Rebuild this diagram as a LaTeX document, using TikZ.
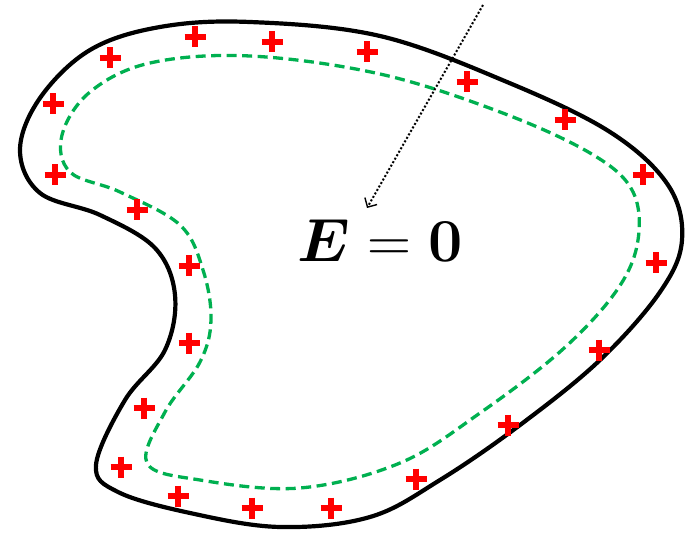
\documentclass[tikz,border=0pt]{standalone}
\definecolor{fieldGreen}{RGB}{0,176,80}
\usepackage{amsmath,amssymb}
\usepackage{tikz}
\usetikzlibrary{arrows.meta,positioning}

\begin{document}
\begin{tikzpicture}[x=1pt, y=-1pt,
  conductor/.style={line width=4.2pt, black, line join=round},
  gauss/.style={line width=3.3pt, fieldGreen, dash pattern=on 10pt off 5.5pt},
  charge/.style={line width=6.5pt, red},
  every node/.style={font=\Huge}]
  \useasboundingbox (0,0) rectangle (687,534);
  % conductor surface
  \draw[conductor] plot[smooth cycle, tension=0.6] coordinates {
    (250,22) (380,36) (507,82) (610,132) (668,185) (682,240) (660,292)
    (600,360) (520,425) (440,480) (370,517) (280,527) (190,513) (118,492)
    (96,465) (125,400) (165,350) (175,295) (155,248) (100,215) (40,193)
    (20,150) (40,98) (90,50) (160,27)};
  % gaussian surface just inside
  \draw[gauss] plot[smooth cycle, tension=0.6] coordinates {
    (250,56) (380,74) (500,112) (590,153) (632,190) (638,240) (617,290)
    (562,350) (480,413) (400,463) (300,488) (200,480) (147,463) (165,412)
    (200,362) (211,320) (203,270) (180,225) (120,192) (70,172) (62,135)
    (90,92) (150,63)};
  % surface charges
  \foreach \x/\y in {195/37, 272/42, 367/52, 467/82, 565/120, 643/175,
    656/263, 599/350, 508/425, 416/479, 331/508, 252/508, 178/496,
    121/467, 144/408, 189/343, 189/266, 137/210, 55/175, 53/104, 110/58}
    \draw[charge] (\x,\y) +(-10.5,0) -- +(10.5,0) +(0,-10.5) -- +(0,10.5);
  \node (eq) at (380,241) {\scalebox{2.45}{$\boldsymbol{E}=\mathbf{0}$}};
  \coordinate (src) at (483,5);
  \coordinate (tip) at (367,208);
  \draw[line width=2pt, dotted, -{Straight Barb[length=7pt,width=14pt,line width=1.4pt]}] (src) -- (tip);
\end{tikzpicture}
\end{document}
